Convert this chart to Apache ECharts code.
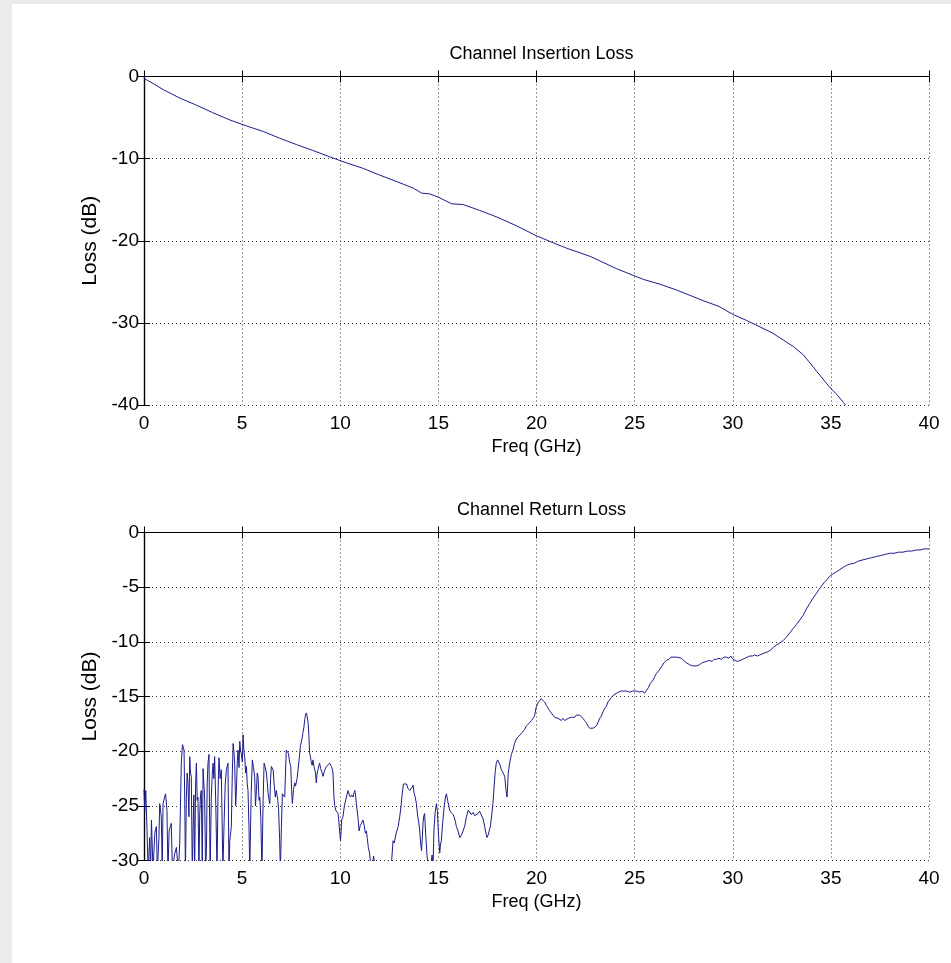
<!DOCTYPE html>
<html>
<head>
<meta charset="utf-8">
<title>Channel Loss</title>
<script src="https://cdn.jsdelivr.net/npm/echarts@6/dist/echarts.min.js"></script>
<style>
    html, body { margin: 0; padding: 0; background: #ebebeb; }
    #chart { position: absolute; left: 12px; top: 4px; width: 939px; height: 959px; background: #fff; }
</style>
</head>
<body>
<div id="chart"></div>
<script type="text/javascript">
    // 插入损耗 (Channel Insertion Loss)
    var freqIL = [0, 0.05, 0.5, 0.98, 1.8, 2.68, 3.5, 4.38, 5.2, 6.08, 6.9, 7.78, 8.6, 9.48, 10.3, 11.18, 12.0, 12.88, 13.73, 14.15, 14.57, 15.0, 15.68, 16.27, 17.1, 17.97, 19.0, 20.0, 20.8, 21.53, 22.73, 24.08, 25.44, 26.3, 27.14, 28.5, 29.3, 30.03, 30.7, 31.39, 32.0, 32.58, 33.1, 33.6, 34.28, 34.96, 35.3, 35.64, 35.75];
    var lossIL = [0, -0.3, -0.9, -1.6, -2.6, -3.5, -4.4, -5.3, -6.0, -6.7, -7.5, -8.3, -9.0, -9.8, -10.5, -11.2, -12.0, -12.8, -13.6, -14.2, -14.3, -14.7, -15.5, -15.6, -16.3, -17.1, -18.2, -19.4, -20.2, -20.9, -21.9, -23.4, -24.7, -25.3, -26.0, -27.3, -28.0, -29.0, -29.7, -30.5, -31.2, -32.1, -32.9, -33.9, -35.9, -37.9, -38.7, -39.7, -40.0];

    // 回波损耗 (Channel Return Loss)
    var freqRL = [0.00, 0.04, 0.09, 0.15, 0.21, 0.29, 0.34, 0.38, 0.46, 0.55, 0.63, 0.68, 0.76, 0.80, 0.88, 0.93, 0.97, 1.05, 1.10, 1.14, 1.17, 1.22, 1.28, 1.34, 1.39, 1.45, 1.55, 1.65, 1.75, 1.82, 1.90, 1.96, 1.99, 2.04, 2.08, 2.11, 2.16, 2.20, 2.24, 2.29, 2.33, 2.37, 2.41, 2.46, 2.50, 2.54, 2.58, 2.63, 2.67, 2.71, 2.75, 2.80, 2.84, 2.88, 2.92, 2.97, 3.01, 3.05, 3.09, 3.14, 3.18, 3.22, 3.26, 3.31, 3.37, 3.43, 3.48, 3.52, 3.56, 3.60, 3.66, 3.72, 3.77, 3.82, 3.88, 3.94, 4.02, 4.08, 4.14, 4.20, 4.28, 4.33, 4.37, 4.45, 4.50, 4.54, 4.58, 4.62, 4.67, 4.71, 4.75, 4.79, 4.84, 4.88, 4.92, 4.96, 5.01, 5.05, 5.09, 5.13, 5.18, 5.22, 5.26, 5.30, 5.35, 5.39, 5.46, 5.52, 5.58, 5.64, 5.68, 5.73, 5.77, 5.81, 5.86, 5.90, 5.95, 6.01, 6.07, 6.12, 6.18, 6.24, 6.33, 6.41, 6.45, 6.49, 6.53, 6.58, 6.63, 6.69, 6.74, 6.78, 6.82, 6.86, 6.91, 6.95, 7.00, 7.05, 7.11, 7.17, 7.21, 7.25, 7.30, 7.36, 7.42, 7.48, 7.52, 7.56, 7.62, 7.68, 7.72, 7.76, 7.80, 7.85, 7.89, 7.93, 7.97, 8.02, 8.06, 8.10, 8.15, 8.19, 8.23, 8.27, 8.31, 8.36, 8.40, 8.44, 8.48, 8.53, 8.57, 8.61, 8.66, 8.70, 8.74, 8.78, 8.82, 8.87, 8.91, 8.95, 9.00, 9.04, 9.08, 9.12, 9.20, 9.29, 9.38, 9.46, 9.50, 9.55, 9.59, 9.63, 9.68, 9.72, 9.77, 9.83, 9.89, 9.93, 9.97, 10.01, 10.04, 10.07, 10.14, 10.21, 10.28, 10.34, 10.40, 10.46, 10.52, 10.58, 10.65, 10.70, 10.74, 10.78, 10.82, 10.90, 10.96, 11.02, 11.08, 11.12, 11.16, 11.22, 11.28, 11.33, 11.38, 11.43, 11.50, 11.58, 11.65, 11.70, 11.75, 11.85, 12.30, 12.60, 12.69, 12.75, 12.85, 12.95, 13.03, 13.10, 13.15, 13.22, 13.28, 13.32, 13.38, 13.45, 13.54, 13.60, 13.66, 13.71, 13.76, 13.82, 13.88, 13.95, 14.00, 14.05, 14.10, 14.14, 14.18, 14.22, 14.26, 14.30, 14.35, 14.42, 14.50, 14.60, 14.68, 14.73, 14.78, 14.84, 14.90, 14.95, 15.00, 15.07, 15.11, 15.15, 15.22, 15.30, 15.36, 15.41, 15.47, 15.53, 15.58, 15.65, 15.70, 15.75, 15.80, 15.86, 15.92, 16.00, 16.09, 16.17, 16.26, 16.35, 16.43, 16.52, 16.60, 16.68, 16.77, 16.85, 16.94, 17.02, 17.10, 17.19, 17.28, 17.36, 17.42, 17.48, 17.55, 17.60, 17.65, 17.72, 17.78, 17.85, 17.90, 17.95, 18.02, 18.09, 18.15, 18.21, 18.30, 18.38, 18.44, 18.50, 18.56, 18.63, 18.72, 18.80, 18.88, 18.97, 19.05, 19.14, 19.22, 19.31, 19.40, 19.48, 19.57, 19.65, 19.74, 19.82, 19.90, 19.98, 20.07, 20.15, 20.24, 20.33, 20.41, 20.50, 20.58, 20.67, 20.75, 20.84, 20.92, 21.01, 21.10, 21.18, 21.27, 21.35, 21.44, 21.52, 21.61, 21.69, 21.78, 21.86, 21.95, 22.03, 22.12, 22.20, 22.28, 22.37, 22.45, 22.54, 22.62, 22.71, 22.79, 22.88, 22.96, 23.05, 23.13, 23.22, 23.30, 23.39, 23.47, 23.56, 23.64, 23.73, 23.81, 23.90, 23.98, 24.07, 24.15, 24.30, 24.45, 24.58, 24.75, 24.90, 25.09, 25.25, 25.40, 25.50, 25.60, 25.70, 25.80, 25.94, 26.02, 26.11, 26.25, 26.40, 26.50, 26.62, 26.75, 26.85, 26.96, 27.05, 27.15, 27.25, 27.38, 27.50, 27.62, 27.72, 27.81, 27.95, 28.05, 28.15, 28.30, 28.45, 28.55, 28.65, 28.80, 28.95, 29.05, 29.16, 29.30, 29.42, 29.55, 29.67, 29.80, 29.90, 30.01, 30.12, 30.25, 30.35, 30.50, 30.62, 30.75, 30.86, 31.00, 31.12, 31.25, 31.37, 31.50, 31.65, 31.80, 31.95, 32.08, 32.22, 32.40, 32.56, 32.72, 32.90, 33.07, 33.25, 33.42, 33.58, 33.75, 33.92, 34.09, 34.25, 34.40, 34.52, 34.65, 34.80, 34.94, 35.10, 35.28, 35.45, 35.62, 35.80, 35.96, 36.20, 36.42, 36.64, 36.85, 37.08, 37.31, 37.55, 37.77, 37.99, 38.22, 38.45, 38.67, 38.90, 39.12, 39.35, 39.55, 39.75, 40.00];
    var lossRL = [-23.5, -25.4, -23.6, -27.0, -31, -27.9, -31, -26.3, -31, -27.5, -26.9, -31, -28.0, -24.8, -26.0, -31, -24.8, -24.2, -23.9, -23.9, -25.4, -31, -27.3, -26.9, -26.6, -31, -29.5, -28.8, -31, -28.5, -21.1, -19.4, -19.4, -19.9, -25.0, -31, -24.2, -22.0, -22.9, -26.0, -20.5, -22.0, -22.3, -31, -27.3, -24.0, -31, -23.0, -21.1, -24.5, -24.2, -31, -25.7, -24.0, -23.6, -31, -21.6, -23.0, -24.2, -31, -29.1, -23.0, -21.1, -20.3, -31, -24.2, -22.0, -21.1, -22.5, -20.5, -25.0, -31, -24.0, -20.6, -22.5, -21.7, -31, -26.6, -23.0, -21.7, -21.1, -31, -28.2, -26.9, -22.0, -19.3, -20.0, -21.1, -25.0, -23.6, -21.0, -19.9, -21.5, -19.1, -20.0, -20.2, -21.0, -18.5, -20.0, -20.5, -22.0, -21.4, -23.0, -23.6, -27.0, -31, -24.0, -20.8, -21.5, -22.3, -25.0, -23.6, -22.0, -22.3, -24.5, -24.2, -26.0, -31, -24.5, -21.1, -21.5, -22.0, -24.0, -24.8, -22.5, -21.4, -21.5, -21.7, -23.0, -24.2, -23.6, -23.6, -24.5, -25.4, -28.0, -31, -27.0, -23.9, -24.0, -24.2, -22.0, -19.9, -20.0, -20.2, -21.0, -21.4, -23.5, -24.8, -23.5, -22.9, -23.2, -23.3, -22.5, -21.7, -21.0, -20.3, -19.5, -19.4, -18.8, -18.3, -17.8, -17.1, -16.7, -16.5, -16.8, -17.4, -18.5, -20.2, -20.5, -21.1, -21.3, -20.8, -21.4, -21.4, -22.0, -22.9, -22.0, -21.7, -21.3, -21.1, -21.6, -21.7, -22.0, -22.3, -21.8, -21.4, -21.3, -21.1, -21.2, -21.4, -21.6, -22.0, -24.2, -25.0, -25.4, -25.5, -25.7, -26.5, -26.6, -28.2, -27.5, -26.3, -26.0, -25.0, -25.1, -24.0, -23.6, -24.0, -24.2, -24.0, -24.2, -23.8, -23.6, -24.0, -24.8, -26.0, -27.3, -26.8, -26.6, -26.5, -26.3, -26.8, -27.5, -27.3, -28.0, -28.8, -29.4, -31, -30.5, -29.6, -30.3, -31, -31, -30.5, -28.2, -28.4, -27.5, -26.9, -26.0, -25.0, -24.0, -23.0, -22.9, -23.1, -23.0, -23.4, -23.6, -23.5, -23.3, -23.1, -23.8, -24.2, -24.8, -26.0, -26.5, -27.3, -28.5, -29.1, -28.0, -26.5, -25.9, -25.7, -27.5, -29.5, -31, -30.5, -29.5, -30.2, -27.0, -25.5, -24.8, -25.5, -27.5, -29.3, -28.5, -28.2, -26.5, -25.0, -24.2, -23.9, -24.5, -25.0, -25.4, -25.6, -25.5, -25.8, -26.0, -26.4, -26.9, -27.3, -27.9, -27.7, -27.3, -26.8, -26.0, -25.4, -25.4, -25.8, -25.6, -25.9, -26.0, -25.7, -25.5, -25.5, -26.2, -26.9, -27.5, -27.9, -27.6, -27.2, -26.9, -25.8, -24.8, -23.0, -21.8, -21.1, -20.8, -20.9, -21.3, -21.7, -22.0, -22.3, -23.5, -24.2, -22.0, -21.1, -20.3, -19.9, -19.3, -18.9, -18.7, -18.7, -18.4, -18.3, -18.0, -17.7, -17.6, -17.4, -17.2, -17.0, -16.8, -16.0, -15.6, -15.4, -15.2, -15.3, -15.5, -15.8, -15.9, -16.3, -16.5, -16.6, -16.9, -17.0, -17.0, -17.1, -17.2, -17.0, -17.2, -17.2, -17.0, -16.9, -16.9, -16.8, -16.9, -16.7, -16.6, -16.7, -16.7, -17.0, -17.2, -17.4, -17.7, -17.9, -18.0, -17.9, -17.8, -17.7, -17.4, -17.0, -16.8, -16.4, -16.1, -15.9, -15.5, -15.3, -15.1, -14.9, -14.8, -14.7, -14.6, -14.5, -14.5, -14.5, -14.6, -14.5, -14.5, -14.6, -14.5, -14.7, -14.6, -14.2, -13.8, -13.5, -13.2, -12.9, -12.6, -12.2, -11.9, -11.7, -11.6, -11.4, -11.4, -11.5, -11.4, -11.5, -11.5, -11.7, -11.9, -12.0, -12.1, -12.2, -12.2, -12.2, -12.1, -11.9, -12.0, -11.8, -11.7, -11.8, -11.6, -11.6, -11.5, -11.6, -11.4, -11.4, -11.5, -11.3, -11.6, -11.7, -11.8, -11.8, -11.6, -11.5, -11.4, -11.3, -11.3, -11.2, -11.3, -11.2, -11.1, -11.0, -10.9, -10.7, -10.5, -10.3, -10.1, -9.9, -9.6, -9.2, -8.8, -8.4, -8.0, -7.6, -7.0, -6.5, -6.0, -5.6, -5.2, -4.9, -4.6, -4.3, -4.0, -3.8, -3.6, -3.4, -3.2, -3.0, -2.9, -2.8, -2.6, -2.5, -2.4, -2.3, -2.2, -2.1, -2.0, -1.9, -1.9, -1.8, -1.8, -1.7, -1.7, -1.6, -1.6, -1.5, -1.5];

    var xTicks = [0, 40, 5];          // min, max, interval
    var yTicksIL = [-40, 0, 10];
    var yTicksRL = [-30, 0, 5];

    var FONT = "'Liberation Sans', Arial, sans-serif";
    var lineColor = '#1c1c8c';

    function pairs(xs, ys) {
        var out = [];
        for (var i = 0; i < xs.length; i++) {
            out.push([xs[i], ys[i]]);
        }
        return out;
    }

    function xAxisOf(gridIndex, main) {
        return {
            type: 'value', gridIndex: gridIndex, position: main ? 'bottom' : 'top',
            min: xTicks[0], max: xTicks[1], interval: xTicks[2],
            name: main ? 'Freq (GHz)' : '', nameLocation: 'middle', nameGap: 33,
            nameTextStyle: { fontFamily: FONT, fontSize: 18, color: '#000' },
            axisLine: { lineStyle: { color: '#000', width: 1.2 } },
            axisTick: { inside: true, length: 6, lineStyle: { color: '#000' } },
            axisLabel: { show: main, margin: 9, fontFamily: FONT, fontSize: 19, color: '#000', showMinLabel: true, showMaxLabel: true },
            splitLine: { show: main, lineStyle: { color: '#333', type: [1, 3], width: 1 } }
        };
    }

    function yAxisOf(gridIndex, main, ticks) {
        return {
            type: 'value', gridIndex: gridIndex, position: main ? 'left' : 'right',
            min: ticks[0], max: ticks[1], interval: ticks[2],
            name: main ? 'Loss (dB)' : '', nameLocation: 'middle', nameGap: 39,
            nameTextStyle: { fontFamily: FONT, fontSize: 21, color: '#000' },
            axisLine: { show: true, lineStyle: { color: '#000', width: 1.2 } },
            axisTick: { show: true, inside: true, length: 6, lineStyle: { color: '#000' } },
            axisLabel: { show: main, margin: 5, fontFamily: FONT, fontSize: 19, color: '#000', showMinLabel: true, showMaxLabel: true },
            splitLine: { show: main, lineStyle: { color: '#333', type: [1, 3], width: 1 } }
        };
    }

    var myChart = echarts.init(document.getElementById('chart'), null, { renderer: 'canvas' });

    var option = {
        animation: false,
        backgroundColor: '#fff',
        title: [
            { text: 'Channel Insertion Loss', left: 524.5, top: 36, textAlign: 'center',
              textStyle: { fontFamily: FONT, fontSize: 18, fontWeight: 'normal', color: '#000' } },
            { text: 'Channel Return Loss', left: 524.5, top: 492, textAlign: 'center',
              textStyle: { fontFamily: FONT, fontSize: 18, fontWeight: 'normal', color: '#000' } }
        ],
        grid: [
            { left: 132, top: 72.5, width: 785, height: 328.5 },
            { left: 132, top: 528.5, width: 785, height: 328 }
        ],
        xAxis: [xAxisOf(0, true), xAxisOf(0, false), xAxisOf(1, true), xAxisOf(1, false)],
        yAxis: [yAxisOf(0, true, yTicksIL), yAxisOf(0, false, yTicksIL), yAxisOf(1, true, yTicksRL), yAxisOf(1, false, yTicksRL)],
        series: [
            { type: 'line', xAxisIndex: 0, yAxisIndex: 0, data: pairs(freqIL, lossIL), showSymbol: false, clip: true,
              lineStyle: { color: lineColor, width: 1 } },
            { type: 'line', xAxisIndex: 2, yAxisIndex: 2, data: pairs(freqRL, lossRL), showSymbol: false, clip: true,
              lineStyle: { color: lineColor, width: 1 } }
        ]
    };

    myChart.setOption(option, true);
</script>
</body>
</html>
